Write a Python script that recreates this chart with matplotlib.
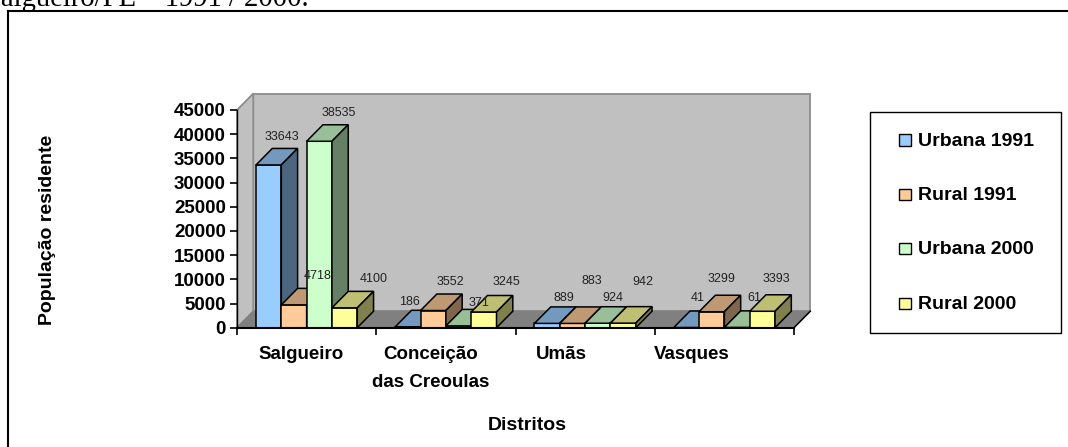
import matplotlib
matplotlib.use("Agg")
import matplotlib.pyplot as plt
from matplotlib.lines import Line2D
from matplotlib.patches import Polygon, Rectangle

plt.rcParams['font.family'] = ['Liberation Sans', 'DejaVu Sans']

categories = ["Salgueiro", "Conceição\ndas Creoulas", "Umãs", "Vasques"]
series_names = ["Urbana 1991", "Rural 1991", "Urbana 2000", "Rural 2000"]
urbana_1991 = [33643, 186, 889, 41]
rural_1991 = [4718, 3552, 883, 3299]
urbana_2000 = [38535, 371, 924, 61]
rural_2000 = [4100, 3245, 942, 3393]
y_ticks = list(range(0, 45001, 5000))
colors = ["#99CCFF", "#FFCC99", "#CCFFCC", "#FFFF99"]

# hand placed value labels, pixels from the front top centre of each bar
label_dx = [[13.5, 24, 19.5, 29.5], [2, 17, 20, 23], [17, 19.6, 15.5, 20], [11, 10, 17, 14]]
label_dy = [[28.2, 29.2, 28.6, 28.6], [24.5, 28.2, 22.6, 29.7], [25, 42.7, 24.9, 40.8], [29.2, 32.4, 29.1, 32]]
# category names do not sit centred under their ticks in the original
cat_label_px = [301, 431, 561, 692]

W, H = 1068, 447
left, right, top, bottom = 237, 794, 110, 327.7
depth_x, depth_y = 16.3, 16.5


def shade(c, f):
    rgb = matplotlib.colors.to_rgb(c)
    return tuple(v * f for v in rgb)


fig = plt.figure(figsize=(W / 100, H / 100), dpi=100)
ax = fig.add_axes([left / W, 1 - bottom / H, (right - left) / W, (bottom - top) / H])
ax.set_xlim(0, len(categories))
ax.set_ylim(0, 45000)
ax.patch.set_visible(False)

# depth of the box in data units
dx = depth_x * len(categories) / (right - left)
dy = depth_y * 45000 / (bottom - top)
n = len(categories)
ymax = 45000

box = dict(clip_on=False, joinstyle='miter')
ax.add_patch(Polygon([(dx, dy), (n + dx, dy), (n + dx, ymax + dy), (dx, ymax + dy)],
                     fc="#C0C0C0", ec="#8C8C8C", lw=1.3, **box))
ax.add_patch(Polygon([(0, 0), (dx, dy), (dx, ymax + dy), (0, ymax)],
                     fc="#C0C0C0", ec="#8C8C8C", lw=1.3, **box))
ax.add_patch(Polygon([(0, 0), (n, 0), (n + dx, dy), (dx, dy)],
                     fc="#808080", ec="#808080", lw=0.8, **box))
ax.plot([n, n + dx], [0, dy], color="black", lw=1.1, clip_on=False, zorder=2)

all_series = [urbana_1991, rural_1991, urbana_2000, rural_2000]
gap = 1.5
w = 1 / (len(all_series) + gap)
for i in range(n):
    for s, values in enumerate(all_series):
        x0 = i + gap * w / 2 + s * w
        x1 = x0 + w
        v = values[i]
        z = 3 + s + 10 * i
        ax.add_patch(Polygon([(x0, 0), (x1, 0), (x1, v), (x0, v)],
                             fc=colors[s], ec="black", lw=1.1, zorder=z, **box))
        ax.add_patch(Polygon([(x0, v), (x1, v), (x1 + dx, v + dy), (x0 + dx, v + dy)],
                             fc=shade(colors[s], 0.75), ec="black", lw=1.1, zorder=z, **box))
        ax.add_patch(Polygon([(x1, 0), (x1 + dx, dy), (x1 + dx, v + dy), (x1, v)],
                             fc=shade(colors[s], 0.5), ec="black", lw=1.1, zorder=z, **box))
for i in range(n):
    for s, values in enumerate(all_series):
        x0 = i + gap * w / 2 + s * w
        ax.annotate(str(values[i]), (x0 + w / 2, values[i]),
                    xytext=(label_dx[i][s] * 0.72, label_dy[i][s] * 0.72), textcoords='offset points',
                    ha='center', va='center', fontsize=9, color="#222222", zorder=100)

for name in ['top', 'right']:
    ax.spines[name].set_visible(False)
ax.spines['left'].set_linewidth(1.0)
ax.spines['bottom'].set_linewidth(1.5)
ax.spines['left'].set_zorder(90)
ax.spines['bottom'].set_zorder(90)

ax.set_yticks(y_ticks)
ax.set_yticklabels([str(t) for t in y_ticks], fontsize=13.5, fontweight='bold')
ax.set_xticks(range(n + 1))
ax.set_xticklabels([])
ax.set_xticks([(p - left) / (right - left) * n for p in cat_label_px], minor=True)
ax.set_xticklabels(categories, minor=True, fontsize=13.5, fontweight='bold', linespacing=1.85)
ax.tick_params(axis='x', which='minor', length=0, pad=13)
ax.tick_params(axis='both', which='major', length=5, width=1.2)
ax.tick_params(axis='y', which='major', pad=3)

fig.text(48 / W, 1 - 230 / H, "População residente", rotation=90, ha='center', va='center',
         fontsize=14, fontweight='bold')
fig.text(527 / W, 1 - 425 / H, "Distritos", ha='center', va='center', fontsize=14, fontweight='bold')

# page frame: only the top and left rules are visible
fig.add_artist(Line2D([8 / W, 8 / W], [0, 1 - 11 / H], color='black', lw=1.5))
fig.add_artist(Line2D([8 / W, 1], [1 - 11 / H, 1 - 11 / H], color='black', lw=1.5))
fig.text(-15 / W, 1 - 5.5 / H, "Salgueiro/PE – 1991 / 2000.", family='Liberation Serif', fontsize=20.6,
         ha='left', va='baseline')

# legend box
fig.add_artist(Rectangle((870 / W, 1 - 333 / H), 191 / W, 221 / H, transform=fig.transFigure,
                         fc='white', ec='black', lw=1))
for s, name in enumerate(series_names):
    yc = 140 + 54.4 * s
    fig.add_artist(Rectangle((899 / W, 1 - (yc + 5.5) / H), 12 / W, 11 / H, transform=fig.transFigure,
                             fc=colors[s], ec='black', lw=1))
    fig.text(918 / W, 1 - (yc + 1) / H, name, ha='left', va='center', fontsize=14, fontweight='bold')

fig.savefig("out.png", dpi=100)
